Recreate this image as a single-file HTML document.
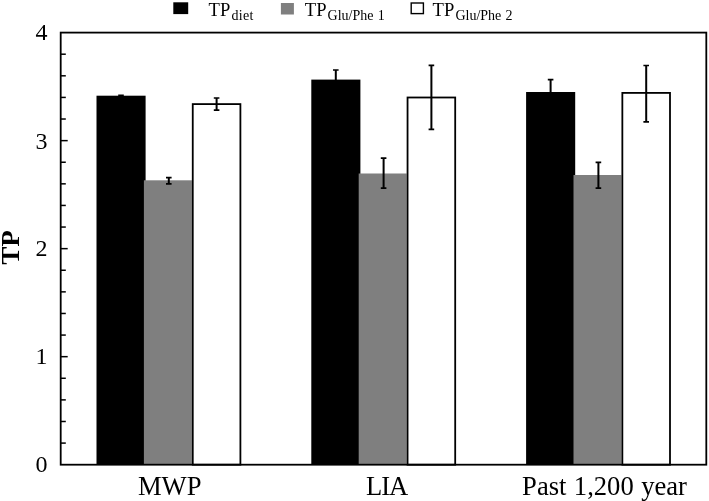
<!DOCTYPE html>
<html><head><meta charset="utf-8"><title>TP</title>
<style>html,body{margin:0;padding:0;background:#fff}svg{display:block;will-change:transform}text{font-family:"Liberation Serif","Times New Roman",serif;fill:#000}</style></head><body>
<svg width="709" height="501" viewBox="0 0 709 501">
<rect width="709" height="501" fill="#fff"/>
<rect x="96.50" y="95.70" width="49.1" height="369.00" fill="#000"/>
<rect x="143.90" y="180.30" width="47.95" height="284.40" fill="#7f7f7f"/>
<rect x="192.75" y="104.10" width="47.65" height="360.60" fill="#fff" stroke="#000" stroke-width="1.8"/>
<path d="M121.00 95.30V96.50" stroke="#000" stroke-width="2" fill="none"/>
<path d="M118.20 95.30H123.80M118.20 96.50H123.80" stroke="#000" stroke-width="1.7" fill="none"/>
<path d="M168.80 177.70V183.80" stroke="#000" stroke-width="2" fill="none"/>
<path d="M166.00 177.70H171.60M166.00 183.80H171.60" stroke="#000" stroke-width="1.7" fill="none"/>
<path d="M216.60 98.00V110.20" stroke="#000" stroke-width="2" fill="none"/>
<path d="M213.80 98.00H219.40M213.80 110.20H219.40" stroke="#000" stroke-width="1.7" fill="none"/>
<rect x="311.30" y="79.60" width="49.1" height="385.10" fill="#000"/>
<rect x="358.70" y="173.50" width="47.95" height="291.20" fill="#7f7f7f"/>
<rect x="407.55" y="97.50" width="47.65" height="367.20" fill="#fff" stroke="#000" stroke-width="1.8"/>
<path d="M335.80 70.00V85.00" stroke="#000" stroke-width="2" fill="none"/>
<path d="M333.00 70.00H338.60M333.00 85.00H338.60" stroke="#000" stroke-width="1.7" fill="none"/>
<path d="M383.60 158.10V188.10" stroke="#000" stroke-width="2" fill="none"/>
<path d="M380.80 158.10H386.40M380.80 188.10H386.40" stroke="#000" stroke-width="1.7" fill="none"/>
<path d="M431.40 65.40V129.30" stroke="#000" stroke-width="2" fill="none"/>
<path d="M428.60 65.40H434.20M428.60 129.30H434.20" stroke="#000" stroke-width="1.7" fill="none"/>
<rect x="526.10" y="92.00" width="49.1" height="372.70" fill="#000"/>
<rect x="573.50" y="175.00" width="47.95" height="289.70" fill="#7f7f7f"/>
<rect x="622.35" y="92.90" width="47.65" height="371.80" fill="#fff" stroke="#000" stroke-width="1.8"/>
<path d="M550.60 79.60V98.00" stroke="#000" stroke-width="2" fill="none"/>
<path d="M547.80 79.60H553.40M547.80 98.00H553.40" stroke="#000" stroke-width="1.7" fill="none"/>
<path d="M598.40 162.40V188.10" stroke="#000" stroke-width="2" fill="none"/>
<path d="M595.60 162.40H601.20M595.60 188.10H601.20" stroke="#000" stroke-width="1.7" fill="none"/>
<path d="M646.20 65.50V121.90" stroke="#000" stroke-width="2" fill="none"/>
<path d="M643.40 65.50H649.00M643.40 121.90H649.00" stroke="#000" stroke-width="1.7" fill="none"/>
<rect x="60.7" y="32.6" width="645.5999999999999" height="432.09999999999997" fill="none" stroke="#000" stroke-width="1.8"/>
<path d="M60.7 443.09h5.1" stroke="#000" stroke-width="1.5"/>
<path d="M60.7 421.49h5.1" stroke="#000" stroke-width="1.5"/>
<path d="M60.7 399.88h5.1" stroke="#000" stroke-width="1.5"/>
<path d="M60.7 378.28h5.1" stroke="#000" stroke-width="1.5"/>
<path d="M60.7 356.67h7.0" stroke="#000" stroke-width="1.5"/>
<path d="M60.7 335.07h5.1" stroke="#000" stroke-width="1.5"/>
<path d="M60.7 313.47h5.1" stroke="#000" stroke-width="1.5"/>
<path d="M60.7 291.86h5.1" stroke="#000" stroke-width="1.5"/>
<path d="M60.7 270.25h5.1" stroke="#000" stroke-width="1.5"/>
<path d="M60.7 248.65h7.0" stroke="#000" stroke-width="1.5"/>
<path d="M60.7 227.05h5.1" stroke="#000" stroke-width="1.5"/>
<path d="M60.7 205.44h5.1" stroke="#000" stroke-width="1.5"/>
<path d="M60.7 183.84h5.1" stroke="#000" stroke-width="1.5"/>
<path d="M60.7 162.23h5.1" stroke="#000" stroke-width="1.5"/>
<path d="M60.7 140.63h7.0" stroke="#000" stroke-width="1.5"/>
<path d="M60.7 119.02h5.1" stroke="#000" stroke-width="1.5"/>
<path d="M60.7 97.42h5.1" stroke="#000" stroke-width="1.5"/>
<path d="M60.7 75.81h5.1" stroke="#000" stroke-width="1.5"/>
<path d="M60.7 54.20h5.1" stroke="#000" stroke-width="1.5"/>
<text x="41.5" y="472.00" font-size="24" text-anchor="middle">0</text>
<text x="41.5" y="364.38" font-size="24" text-anchor="middle">1</text>
<text x="41.5" y="256.05" font-size="24" text-anchor="middle">2</text>
<text x="41.5" y="149.22" font-size="24" text-anchor="middle">3</text>
<text x="41.5" y="40.20" font-size="24" text-anchor="middle">4</text>
<text transform="translate(19.0,247.4) rotate(-90) scale(1.065,1)" font-size="25.4" font-weight="bold" text-anchor="middle">TP</text>
<text x="169.7" y="495" font-size="26.6" text-anchor="middle">MWP</text>
<text x="366.1" y="495" font-size="26.6" textLength="42" lengthAdjust="spacing">LIA</text>
<text x="522.1" y="495" font-size="26.6" word-spacing="0.8">Past 1,200 year</text>
<rect x="173.3" y="2.3" width="14.9" height="11.8" fill="#000"/>
<rect x="280.9" y="3.0" width="13" height="11.5" fill="#7f7f7f"/>
<rect x="411.2" y="3" width="12.2" height="10.6" fill="#fff" stroke="#000" stroke-width="1.4"/>
<text x="208.6" y="15.5" font-size="18.6">TP<tspan font-size="14" dy="4.6" dx="1.3" letter-spacing="0.25">diet</tspan></text>
<text x="304.8" y="15.5" font-size="18.6">TP<tspan font-size="14" dy="4.6" dx="1.1" word-spacing="0.8">Glu/Phe 1</tspan></text>
<text x="432.6" y="15.5" font-size="18.6">TP<tspan font-size="14" dy="4.6" dx="1.1" word-spacing="0.8">Glu/Phe 2</tspan></text>
</svg></body></html>
